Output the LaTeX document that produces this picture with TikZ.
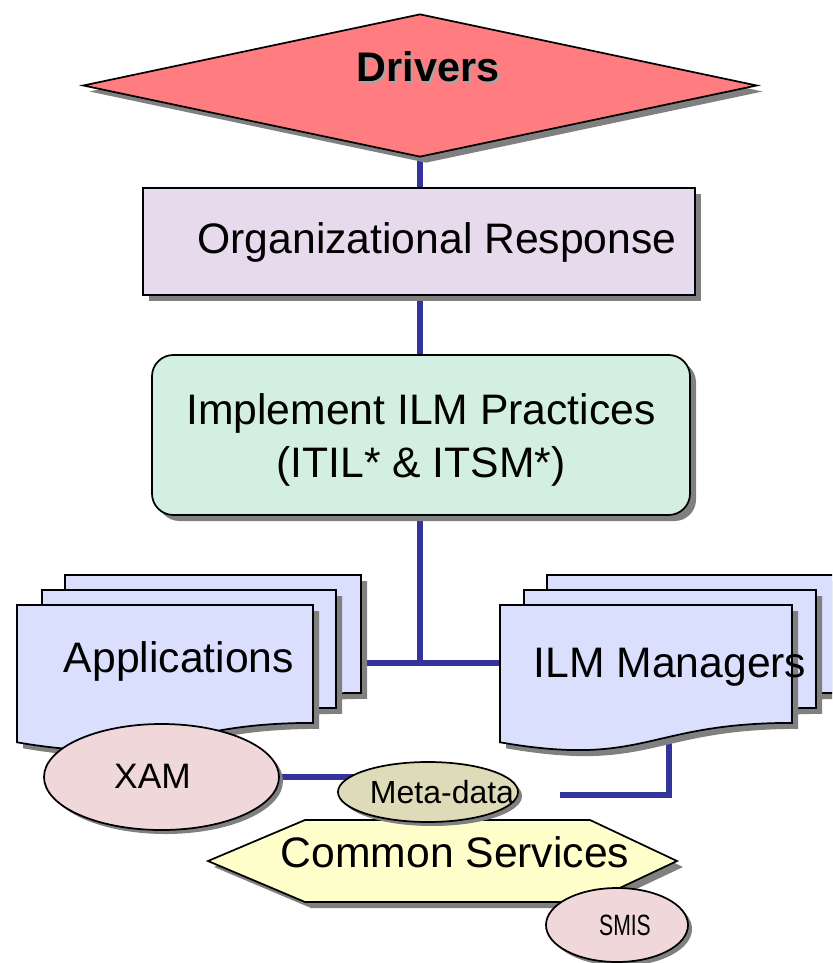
\documentclass[tikz,border=0pt]{standalone}
\usepackage{fontspec}
\usepackage{graphicx}
\setmainfont{Liberation Sans}
\usetikzlibrary{shapes.geometric,shadows,backgrounds}
\definecolor{conn}{HTML}{333399}
\definecolor{drvfill}{HTML}{FF7C80}
\definecolor{orgfill}{HTML}{E6DAEC}
\definecolor{implfill}{HTML}{D3EFE1}
\definecolor{docfill}{HTML}{D9DFFC}
\definecolor{pinkfill}{HTML}{EFD7DA}
\definecolor{metafill}{HTML}{DEDCB8}
\definecolor{csfill}{HTML}{FFFFCC}
\newcommand\docshape[4]{%
  \path[docsty] (#1,#2) -- ({#1+#3},#2) -- ({#1+#3},{#2+0.802*#4})
    .. controls ({#1+#3/2},{#2+0.802*#4}) and ({#1+#3/2},{#2+1.107*#4}) .. (#1,{#2+0.934*#4}) -- cycle;}
\begin{document}
\begin{tikzpicture}[x=0.75pt,y=-0.75pt,
  shd/.style={drop shadow={shadow xshift=4.5pt,shadow yshift=-4.5pt,fill=black!50,opacity=1}},
  shdsmall/.style={drop shadow={shadow xshift=3pt,shadow yshift=-3pt,fill=black!50,opacity=1}},
  outline/.style={draw=black,line width=1.3pt},
  docsty/.style={outline,fill=docfill,shd},
  ellsty/.style={ellipse,outline,inner sep=0pt,shdsmall},
  connector/.style={draw=conn,line width=4.8pt},
  bigtext/.style={font=\fontsize{32}{40}\selectfont,inner sep=0pt},
]
\clip (0,0) rectangle (832,963);

% document stacks
\docshape{547}{575}{292}{147}
\docshape{524}{590}{292}{147}
\docshape{500}{605}{292}{147}
\docshape{65}{575}{296}{147}
\docshape{42}{590}{294}{147}
\docshape{17}{605}{296}{147}
\coordinate (appsR) at (361,663);
\coordinate (ilmL) at (500,663);
\coordinate (ilmB) at (669,725);
\coordinate (jn) at (420,663);
\coordinate (freeend) at (560,795);
\node[bigtext,anchor=base] (apps) at (179,672) {Applications};
\node[bigtext,anchor=base] (ilm) at (670,677) {ILM Managers};

% common services hexagon
\path[outline,fill=csfill,shd] (208,861) -- (305,820) -- (590,820) -- (677,861) -- (590,902) -- (305,902) -- cycle;
\node[bigtext,anchor=base] (cs) at (455,867) {Common Services};

% ellipses
\node[ellsty,fill=pinkfill,minimum width=235*0.75pt,minimum height=106*0.75pt] (xam) at (161.5,777) {};
\node[inner sep=0pt,anchor=base,font=\fontsize{26.5}{30}\selectfont] (xamt) at (152.5,788) {XAM};
\node[ellsty,fill=metafill,minimum width=180*0.75pt,minimum height=60*0.75pt] (meta) at (428,792) {};
\node[inner sep=0pt,anchor=base,font=\fontsize{24}{28}\selectfont] (metat) at (442,803) {Meta-data};
\node[ellsty,fill=pinkfill,minimum width=142*0.75pt,minimum height=74*0.75pt] (smis) at (617,925) {};
\node[inner sep=0pt,anchor=base,font=\fontsize{22}{26}\selectfont] (smist) at (625,935) {\scalebox{0.72}[1]{SMIS}};

% top boxes
\node[diamond,outline,fill=drvfill,shd,inner sep=0pt,minimum width=674*0.75pt,minimum height=143*0.75pt] (drv) at (420,85.5) {};
\node[inner sep=0pt,anchor=base,font=\fontsize{31}{36}\selectfont\bfseries,text=black!35] at (430,84) {Drivers};
\node[inner sep=0pt,anchor=base,font=\fontsize{31}{36}\selectfont\bfseries] (drvt) at (428,82) {Drivers};
\node[rectangle,outline,fill=orgfill,shd,minimum width=552*0.75pt,minimum height=107*0.75pt] (org) at (419,241.5) {};
\node[bigtext,anchor=base] (orgt) at (437,253) {Organizational Response};
\node[rectangle,rounded corners=16pt,outline,fill=implfill,shd,minimum width=538*0.75pt,minimum height=160*0.75pt] (impl) at (421,435) {};
\node[bigtext,align=center] (implt) at (421,440) {Implement ILM Practices\\(ITIL* \& ITSM*)};

% connectors
\begin{pgfonlayer}{background}
\draw[connector] (drv.south) -- (drv.south |- org.north);
\draw[connector] (drv.south |- org.south) -- (drv.south |- impl.north);
\draw[connector] (drv.south |- impl.south) -- (jn);
\draw[connector] (appsR) -- (ilmL);
\draw[connector] (ilmB) |- (freeend);
\draw[connector] (xam.east) -- (xam.east -| meta.center);
\end{pgfonlayer}
\end{tikzpicture}
\end{document}
